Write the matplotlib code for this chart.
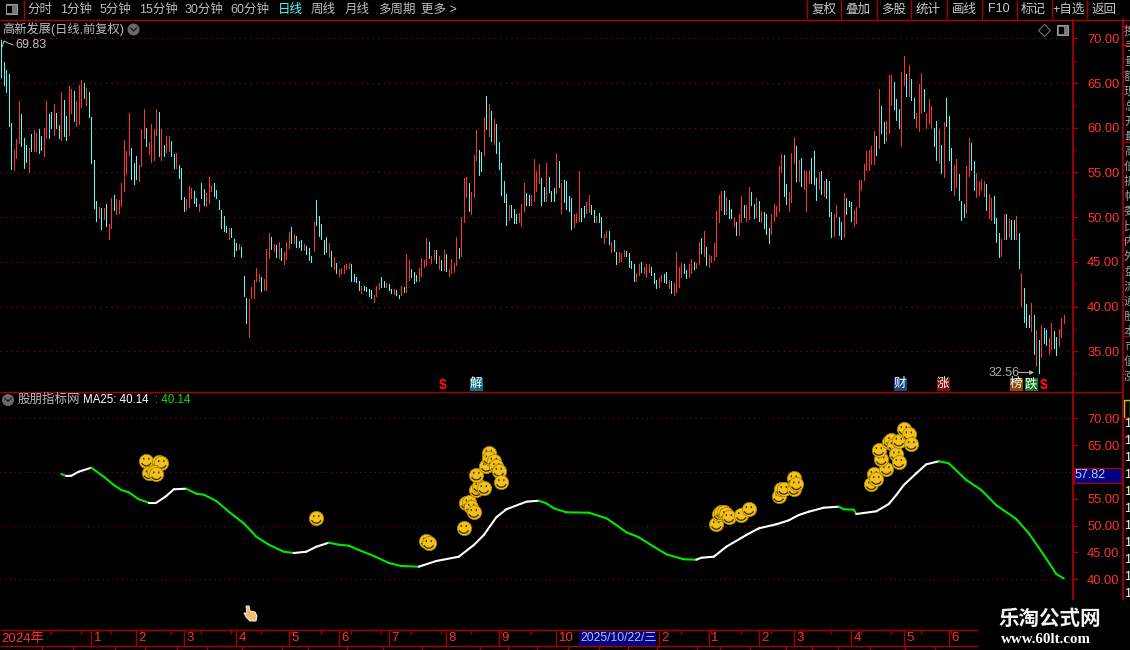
import numpy as np
import matplotlib
matplotlib.use("Agg")
import matplotlib.pyplot as plt
from matplotlib.path import Path
from matplotlib.patches import Rectangle, Polygon, Circle

plt.rcParams['font.family'] = ['Liberation Sans', 'Noto Sans CJK SC', 'DejaVu Sans']

# daily bars (ten per row)
bar_high = [
    69.83,67.4,66.4,66.0,60.5,57.6,58.7,63.0,61.5,58.8,
    58.1,57.7,59.3,59.7,59.4,59.8,59.1,60.0,63.0,61.5,
    61.8,62.7,61.6,60.3,64.0,63.1,61.3,64.7,64.3,64.1,
    63.0,64.8,65.3,65.0,64.4,64.0,61.2,56.4,51.8,51.1,
    51.0,51.0,51.5,49.2,52.1,52.5,52.0,51.9,53.8,58.6,
    57.4,61.7,57.7,56.0,56.8,55.8,59.9,62.1,60.0,58.4,
    60.4,59.8,62.1,61.8,59.9,58.1,59.1,59.1,58.5,57.1,
    57.2,55.8,55.5,52.2,52.0,53.5,53.2,52.9,52.1,51.5,
    53.8,53.1,52.7,54.5,53.6,53.8,53.0,51.9,50.8,50.1,
    49.0,48.8,48.8,47.5,47.1,47.0,46.6,43.4,40.9,40.8,
    42.2,43.0,44.3,43.6,43.3,43.1,46.4,48.2,47.8,47.0,
    46.9,47.2,46.5,46.1,47.2,48.3,48.9,48.1,47.9,47.3,
    47.4,47.0,46.8,46.5,45.6,49.5,51.9,50.1,49.2,47.4,
    47.8,47.1,46.2,45.5,44.9,44.2,44.3,44.6,44.8,44.9,
    44.8,43.6,43.3,42.9,42.3,42.3,42.2,42.0,41.8,41.3,
    42.3,42.6,43.3,42.9,42.6,42.5,42.0,42.0,41.8,41.3,
    42.3,42.2,45.9,45.2,44.2,43.9,43.5,44.3,45.4,45.2,
    47.7,47.2,45.7,46.3,46.3,45.7,45.2,46.3,45.9,44.2,
    45.3,44.9,47.8,46.5,50.0,54.4,54.5,53.8,52.8,56.9,
    59.7,57.5,57.3,61.2,63.6,62.7,61.9,61.0,60.4,58.4,
    56.0,54.0,52.6,51.4,51.4,50.9,50.3,50.5,51.5,53.8,
    52.7,52.5,52.5,56.5,55.2,55.9,54.4,53.4,56.1,54.5,
    52.9,53.3,57.2,56.3,53.8,54.1,54.0,52.4,52.1,50.3,
    50.5,55.2,51.0,51.2,51.7,52.5,51.4,50.8,50.1,50.5,
    50.0,48.1,48.5,48.4,47.2,47.4,46.1,46.1,46.0,46.3,
    46.2,46.0,45.1,44.8,43.8,44.7,45.0,44.4,44.7,44.7,
    44.4,43.8,43.0,43.2,43.5,43.6,43.9,43.0,42.9,42.6,
    46.1,44.4,44.9,44.8,44.1,44.8,45.3,45.0,44.9,47.2,
    47.7,48.4,46.6,45.8,45.7,47.1,50.7,52.5,52.9,52.9,
    52.3,51.9,50.9,50.0,49.4,50.3,52.4,51.3,51.3,53.4,
    52.8,51.5,52.1,51.8,50.7,50.6,50.3,48.8,50.3,51.5,
    51.2,55.7,57.1,57.0,53.7,52.8,57.2,59.0,57.9,56.4,
    56.6,55.3,55.2,55.3,56.6,57.4,54.4,55.1,55.2,54.0,
    54.3,54.0,50.6,50.3,51.4,50.0,49.5,52.7,52.1,51.8,
    51.7,50.8,51.1,54.2,54.2,55.9,57.4,57.5,58.0,59.6,
    59.1,64.3,62.4,60.6,60.8,65.9,65.9,65.1,63.2,62.1,
    66.2,68.0,66.0,67.0,65.5,63.3,61.6,64.9,66.1,64.3,
    61.7,63.2,62.4,60.0,60.8,59.8,58.1,60.6,63.3,61.3,
    57.7,55.8,56.5,54.8,51.8,51.5,55.7,58.8,58.3,56.3,
    54.9,54.0,54.3,54.0,53.7,52.6,52.1,52.4,49.9,48.2,
    47.5,50.3,50.3,49.8,49.7,49.7,50.1,48.2,43.8,42.1,
    40.3,39.1,40.4,39.0,37.4,36.2,37.9,37.6,37.4,36.5,
    38.1,37.3,36.6,37.5,38.7,39.1,
]
bar_low = [
    65.7,64.8,64.0,60.2,55.4,55.3,56.6,58.3,57.9,55.5,
    56.2,55.0,57.4,57.4,57.4,57.2,57.5,56.8,58.9,58.8,
    60.0,59.2,60.0,58.9,58.6,59.1,58.6,59.2,61.7,60.7,
    60.2,60.4,62.3,63.3,62.5,61.2,56.1,51.0,49.6,49.9,
    48.7,49.8,49.0,47.5,48.8,50.8,50.3,50.5,51.2,52.9,
    54.8,56.9,54.3,53.7,54.3,54.0,55.7,58.9,58.0,57.1,
    56.2,56.4,59.2,56.8,56.4,56.8,57.3,57.4,56.8,55.5,
    55.5,54.4,52.0,50.7,50.8,51.1,52.1,51.6,51.2,50.7,
    52.1,51.3,51.2,51.6,52.9,52.4,52.1,50.9,48.8,48.5,
    48.3,47.6,47.8,45.6,46.3,46.4,45.5,41.2,38.2,36.6,
    40.9,41.0,42.8,42.9,41.7,41.9,41.9,45.4,46.4,46.2,
    45.5,45.4,45.2,44.7,45.3,46.5,47.1,47.1,46.6,46.6,
    46.3,46.3,45.9,45.2,45.0,46.2,49.1,47.9,47.5,45.9,
    46.1,45.5,44.5,44.2,43.8,43.4,43.8,43.8,44.2,44.3,
    42.9,42.9,42.7,41.8,41.5,41.8,41.7,41.2,41.0,40.5,
    41.2,42.0,42.2,42.2,42.2,41.9,41.5,41.4,41.3,40.9,
    41.3,41.6,41.6,43.0,43.3,42.6,42.9,42.8,43.4,44.4,
    44.6,45.4,44.9,45.3,44.9,44.2,44.1,44.1,44.0,43.4,
    43.8,43.9,44.6,45.4,45.6,49.5,52.3,50.7,50.3,52.3,
    56.4,54.7,55.2,56.9,59.8,59.1,58.5,58.2,57.2,55.4,
    52.5,51.7,49.1,49.7,50.0,49.3,49.3,49.4,49.0,50.7,
    51.3,51.4,51.4,51.8,52.9,53.8,51.4,51.8,51.8,52.8,
    51.8,51.8,52.7,53.4,50.5,51.7,50.9,50.7,48.7,48.9,
    49.5,49.6,49.6,50.0,50.5,50.6,50.3,49.5,49.4,49.5,
    47.8,47.1,47.8,47.0,46.1,46.2,44.8,45.0,45.1,45.6,
    45.6,44.4,44.3,42.9,42.8,43.5,43.9,43.7,43.3,43.9,
    43.5,42.6,42.1,42.2,42.9,42.7,42.6,42.1,41.5,41.3,
    41.6,42.2,43.3,43.7,43.2,43.3,43.7,44.2,44.3,44.7,
    46.0,45.6,44.6,44.4,45.0,45.2,45.7,49.5,50.8,50.3,
    50.4,49.9,49.9,49.0,48.0,48.0,49.4,50.0,49.6,49.8,
    51.3,49.9,50.0,49.6,49.5,48.8,48.1,47.1,48.1,49.6,
    50.1,50.7,55.0,52.4,51.5,50.7,51.7,56.1,54.0,54.0,
    53.5,53.1,50.7,53.8,53.8,53.7,51.9,53.1,52.6,52.4,
    52.1,50.1,47.8,47.9,50.0,48.0,47.5,47.8,50.3,51.2,
    49.6,49.0,49.3,51.1,53.0,54.2,55.3,55.3,55.9,55.9,
    57.0,57.7,59.4,58.3,58.5,59.4,62.5,62.1,60.9,60.0,
    57.9,64.8,63.6,63.6,63.1,61.1,60.1,59.6,61.6,61.9,
    60.0,60.5,60.0,57.9,56.4,56.0,54.9,54.5,60.2,56.4,
    53.0,52.5,53.4,51.9,49.7,50.0,50.5,54.6,55.3,53.0,
    52.2,52.5,53.0,52.4,50.8,49.9,49.7,49.3,47.2,45.5,
    45.7,47.6,47.5,47.8,47.5,47.6,47.5,44.3,40.1,38.3,
    37.7,37.7,37.3,34.7,33.4,32.56,34.3,35.9,35.7,34.7,
    35.3,35.4,34.6,35.6,36.6,38.2,
]
# r = up bar, c = down bar
bar_kind = ("cccccrrrcc" "crcrrccrrc" "crccrccrrc" "rrrcrccccr" "crcrrcrrrr"
            "rrcccrrrcr" "rrrcrcrrcc" "rcccrrrccr" "ccrrrccccc" "crcccrcccr"
            "rrrrcrrrcr" "crcrrrcrcc" "crcccrcccc" "crcrcrrrrr" "ccccrccccr"
            "rrccrccrcc" "rcrrcccrrr" "rcrrcrcrcr" "rrrcrrrcrr" "rccrcrcrcc"
            "cccrcccrrr" "ccrrrrccrc" "ccrcrccccr" "rrccrrccrc" "crrcrccrrr"
            "ccccrrcrrr" "cccrrccrcr" "rrrccrrcrr" "crcrrrrrrc" "rccrcrrcrr"
            "ccrcrcccrr" "rrrccrrrcr" "crrrcccrcr" "cccrrccrcc" "crrrrrrrrr"
            "crccrrrccc" "rrcrccrrrc" "rrrccrcrcc" "crrcccrrcc" "rrrrcrrccc"
            "rrcrccrcrc" "ccrcrcrccr" "rccrrr")

# MA25 read at the listed bars
ma_index = [24,26,28,31,36,41,45,48,51,55,59,62,66,69,74,78,81,86,91,97,102,107,113,117,122,126,
            131,135,139,143,149,155,160,167,174,183,189,193,198,202,210,215,218,221,226,235,242,
            246,250,255,261,266,273,278,280,285,290,298,303,310,315,319,323,329,335,337,341,342,
            350,355,358,361,366,370,375,379,386,392,398,406,411,417,422,425]
ma_value = [59.62,59.25,59.30,60.05,60.79,59.12,57.57,56.64,56.21,54.91,54.27,54.27,55.52,56.77,
            56.88,55.95,55.76,54.59,52.60,50.43,47.94,46.45,45.14,44.90,45.14,46.07,46.82,46.45,
            46.26,45.46,44.34,43.04,42.48,42.35,43.41,44.21,46.39,48.25,51.55,53.04,54.46,54.64,
            54.16,53.23,52.48,52.41,51.37,50.12,48.76,47.83,46.07,44.66,43.73,43.65,44.02,44.21,
            46.07,48.25,49.50,50.25,50.99,51.98,52.60,53.34,53.53,53.04,52.97,52.17,52.67,54.03,
            55.71,57.57,59.75,61.43,61.99,61.61,58.50,56.64,53.79,51.23,48.57,44.53,40.99,40.14]

# smiley markers
smile_index = [58,63,64,59,61,62,126,170,171,185,186,187,188,189,190,191,193,190,194,195,195,197,198,
               199,200,286,287,288,289,290,291,296,299,311,312,313,317,317,318,348,349,350,354,352,
               351,355,356,357,358,359,359,361,363,364]
smile_value = [62.10,61.91,61.67,59.75,60.05,59.56,51.42,47.19,46.76,49.56,54.16,54.35,53.53,52.54,
               56.58,57.38,57.01,59.49,61.11,63.59,62.54,62.10,61.11,60.23,58.13,50.30,52.17,52.48,
               52.60,52.17,51.61,51.98,53.10,55.46,56.83,56.83,56.83,58.82,57.70,57.70,59.62,58.69,
               60.55,62.36,64.09,65.64,65.95,65.02,63.29,61.86,65.82,68.00,67.02,65.20]

month_labels = ["1","2","3","4","5","6","7","8","9","10","2","1","2","3","4","5","6"]
month_index = [36,54,73,94,115,135,155,178,199,222,263,283,303,317,340,361,379]

price_ticks = [35,40,45,50,55,60,65,70]
ind_ticks = [40,45,50,55,60,65,70]
ind_grid = [40,50,60,70]

left_tabs = [("分时",39.5),("1分钟",76),("5分钟",115),("15分钟",158),("30分钟",204),("60分钟",250),
             ("日线",290),("周线",323),("月线",357),("多周期",397),("更多 >",439)]
right_tabs = [("复权",824),("叠加",858),("多股",894),("统计",928),("画线",964),("F10",999),
              ("标记",1033),("+自选",1069),("返回",1104)]
right_seps = [807,841,877,911,947,982,1017,1052,1087]
event_tags = [("解",476,"#0b6f86"),("财",900,"#17477e"),("涨",943,"#7d0c0c"),("榜",1016,"#8a4a0c"),("跌",1031,"#0c7a1e")]

RED = "#ff3232"
CYAN = "#54fcfc"
LINE = "#a80000"
GRID = "#8c1414"
W, H = 1130, 650
BG = "black"

fig = plt.figure(figsize=(11.3, 6.5), dpi=100, facecolor=BG)

def make_axes(x0, y0, x1, y1):
    a = fig.add_axes([x0/W, 1-y1/H, (x1-x0)/W, (y1-y0)/H], facecolor=BG)
    for s in a.spines.values():
        s.set_visible(False)
    return a

xlim = (-1.3/2.5, (1072.5-1.3)/2.5)

# price panel
ax = make_axes(0, 20, 1072.5, 391)
x = np.arange(len(bar_high))
colors = [RED if k == "r" else CYAN for k in bar_kind]
ax.vlines(x, bar_low, bar_high, colors=colors, lw=0.72, antialiased=False, snap=True, zorder=3)
ax.set_yticks(price_ticks)
ax.set_yticks(np.arange(32.5, 70, 5), minor=True)
ax.set_yticklabels(["%.2f" % p for p in price_ticks])
ax.yaxis.tick_right()
ax.tick_params(axis='y', which='major', colors=RED, length=3.5, width=1, labelsize=9.3, pad=7, color=LINE)
ax.tick_params(axis='y', which='minor', length=2.5, width=1, color=LINE)
ax.set_xticks([])
ax.grid(axis='y', which='major', color=GRID, ls=(0, (1, 4)), lw=0.8)
ax.set_axisbelow(True)
ax.set_xlim(*xlim)
ax.set_ylim(70-(391-38.3)/8.94, 70+(38.3-20)/8.94)

# indicator panel
ax2 = make_axes(0, 392, 1072.5, 600)
for g in ind_grid:
    ax2.axhline(g, color=GRID, ls=(0, (1, 4)), lw=0.7, zorder=1)
for i in range(len(ma_index)-1):
    up = ma_value[i+1] >= ma_value[i]
    ax2.plot(ma_index[i:i+2], ma_value[i:i+2], color="white" if up else "#00e800", lw=1.5,
             solid_capstyle='round', zorder=3)
ax2.set_yticks(ind_ticks)
# the 60.00 label sits under the current price box
ax2.set_yticklabels(["" if p == 60 else "%.2f" % p for p in ind_ticks])
ax2.yaxis.tick_right()
ax2.tick_params(axis='y', colors=RED, length=3.5, width=1, labelsize=9.3, pad=7, color=LINE)
ax2.set_xticks([])
ax2.set_xlim(*xlim)
ax2.set_ylim(40-(600-579.3)/5.367, 40+(579.3-392)/5.367)

theta = np.radians(np.linspace(205, 335, 10))
verts = [(-0.33, 0.38), (-0.33, 0.12), (0.33, 0.38), (0.33, 0.12)] + list(zip(0.68*np.cos(theta), 0.68*np.sin(theta)))
codes = [Path.MOVETO, Path.LINETO, Path.MOVETO, Path.LINETO, Path.MOVETO] + [Path.LINETO]*9
detail = Path(verts, codes)
for k in range(len(smile_index)):
    z = 5 + k*0.01
    ax2.scatter(smile_index[k], smile_value[k], s=105, c="#f3c21a", edgecolors="#a88400", linewidths=0.6, zorder=z)
    ax2.scatter(smile_index[k], smile_value[k], s=55, marker=detail, facecolors="none", edgecolors="#3a2a00",
                linewidths=0.9, zorder=z+0.001)

# time axis
ax3 = make_axes(0, 630, 978, 646)
ax3.set_yticks([])
ax3.set_xticks(month_index)
ax3.set_xticklabels([])
ax3.set_xticks(np.arange(8, 392, 12), minor=True)
ax3.tick_params(axis='x', which='major', direction='in', top=True, bottom=False, length=11.5, width=1, color=LINE)
ax3.tick_params(axis='x', which='minor', direction='in', top=True, bottom=False, length=3, width=1, color=LINE)
ax3.set_xlim(xlim[0], xlim[0] + 978/2.5)
ax3.set_ylim(1, 0)
for lab, pos in zip(month_labels, month_index):
    ax3.text(pos+0.9, 0.52, lab, color=RED, fontsize=9.5, va='center', ha='left')
ax3.text(0.0, 0.52, "2024年", color=RED, fontsize=9.5, va='center', ha='left')

# chrome drawn in pixel coordinates on top
ui = fig.add_axes([0, 0, 1, 1], facecolor='none', zorder=10)
ui.set_xlim(0, W)
ui.set_ylim(H, 0)
ui.axis('off')

def hline(y, x0, x1, lw=1.0):
    ui.plot([x0, x1], [y, y], color=LINE, lw=lw, solid_capstyle='butt')

def vline(x, y0, y1, lw=1.0):
    ui.plot([x, x], [y0, y1], color=LINE, lw=lw, solid_capstyle='butt')

hline(19.5, 0, W)
hline(391.5, 0, 1123)
hline(630, 0, 978)
hline(646, 0, 978)
vline(23.5, 0, 19)
vline(1072.7, 19, 600, 1.3)
vline(1123, 19, 600, 1.3)
for sx in right_seps:
    vline(sx, 0, 19)
for yy in [26, 45, 142, 240, 336, 418, 437]:
    hline(yy, 1123, W)

# bottom row of ticks, cropped text
for tx in [42,73,115,145,177,207,242,282,308,347,383,422,480,508,537,568,599,628,657,697,720,750,786,812,838,870,905,935]:
    vline(tx, 646, 650)

label_kw = dict(fontsize=9.0, va='center')
for name, cx in left_tabs:
    ui.text(cx, 9.5, name, color="#54fcfc" if name == "日线" else "#bdbdbd", ha='center', **label_kw)
for name, cx in right_tabs:
    ui.text(cx, 9.5, name, color="#c8c8c8", ha='center', **label_kw)

# panel toggle icons
for cx, cy in [(11, 9), (1062.7, 30)]:
    ui.add_patch(Rectangle((cx-5.5, cy-5), 11, 10, fc="#777777", ec="#999999", lw=0.8))
    ui.add_patch(Rectangle((cx-4, cy-3.5), 5, 7, fc="black", ec="none"))
ui.plot([1044], [30], marker='D', ms=6.5, mfc='none', mec="#6e6e6e", mew=0.8)

ui.text(2, 29.5, "高新发展(日线,前复权)", color="#bdbdbd", ha='left', fontsize=8.8, va='center')
for cx, cy in [(133.5, 29.5), (8, 400)]:
    ui.add_patch(Circle((cx, cy), 6, fc="#6a6a6a", ec="none"))
    ui.plot([cx-3, cx, cx+3], [cy-1.5, cy+1.5, cy-1.5], color="#222222", lw=1)

ui.text(15, 45.5, "69.83", color="#c0c0c0", ha='left', **label_kw)
ui.plot([2, 4, 8, 13], [47, 41, 43, 45], color="#c0c0c0", lw=0.7)
ui.text(18, 400, "股朋指标网", color="#bdbdbd", ha='left', **label_kw)
ui.text(83, 400, "MA25: 40.14", color="white", ha='left', fontsize=8.3, va='center')
ui.text(155, 400, ": 40.14", color="#00e800", ha='left', fontsize=8.3, va='center')

# event tags
for tag, cx, col in event_tags:
    ui.add_patch(Rectangle((cx-6.5, 377.5), 13, 13, fc=col, ec='none'))
    ui.text(cx, 384, tag, color="white", ha='center', fontsize=9, va='center')
for cx in [443, 1044]:
    ui.text(cx, 384.5, "$", color="#ff1414", ha='center', fontsize=10, fontweight='bold', va='center')
ui.text(989, 373.5, "32.56", color="#b0b0b0", ha='left', **label_kw)
ui.annotate("", xy=(1037, 372.5), xytext=(1016, 372.5),
            arrowprops=dict(arrowstyle='-|>', color="#b0b0b0", lw=0.8, mutation_scale=6))

# current price box
ui.add_patch(Rectangle((1074, 468), 48, 15, fc="#000080", ec=LINE, lw=1))
ui.text(1074.5, 475.5, "57.82", color="#b8c8ff", ha='left', **label_kw)

# date box
ui.add_patch(Rectangle((578.5, 630.5), 77.5, 15, fc="#000080", ec='none'))
ui.text(580, 638.3, "2025/10/22/三", color="#a8c0ff", ha='left', fontsize=8.8, va='center')

# hand cursor
hand = [(246,606),(249,606),(250,611),(255,612),(257,616),(256,621),(250,621),(246,617),(244,613),(247,613)]
ui.add_patch(Polygon(hand, closed=True, fc="#f3b873", ec="#fff3df", lw=0.7))

# cut off column on the right
ui.add_patch(Rectangle((1123.5, 400), 6.5, 18, fc="black", ec="#c8c800", lw=1))
for yy, s in zip(range(32, 390, 15), "换手量额现总开最高低振幅委比内外盘流通股本市值涨跌量均线强度"):
    ui.text(1124, yy, s, color="#a0a0a0", fontsize=8.5, ha='left', va='center', clip_on=True)
for yy in range(424, 600, 17):
    ui.text(1124, yy, "1", color="white", fontsize=9, ha='left', va='center', clip_on=True)

# watermark
ui.text(1050, 619, "乐淘公式网", color="#f4f4f4", fontsize=14.8, ha='center', va='center', fontweight='bold')
ui.text(1046, 639.5, "www.60lt.com", color="white", fontsize=10.8, ha='center', va='center',
        family='Liberation Serif', fontweight='bold')

fig.savefig("out.png", dpi=100, facecolor=BG)
